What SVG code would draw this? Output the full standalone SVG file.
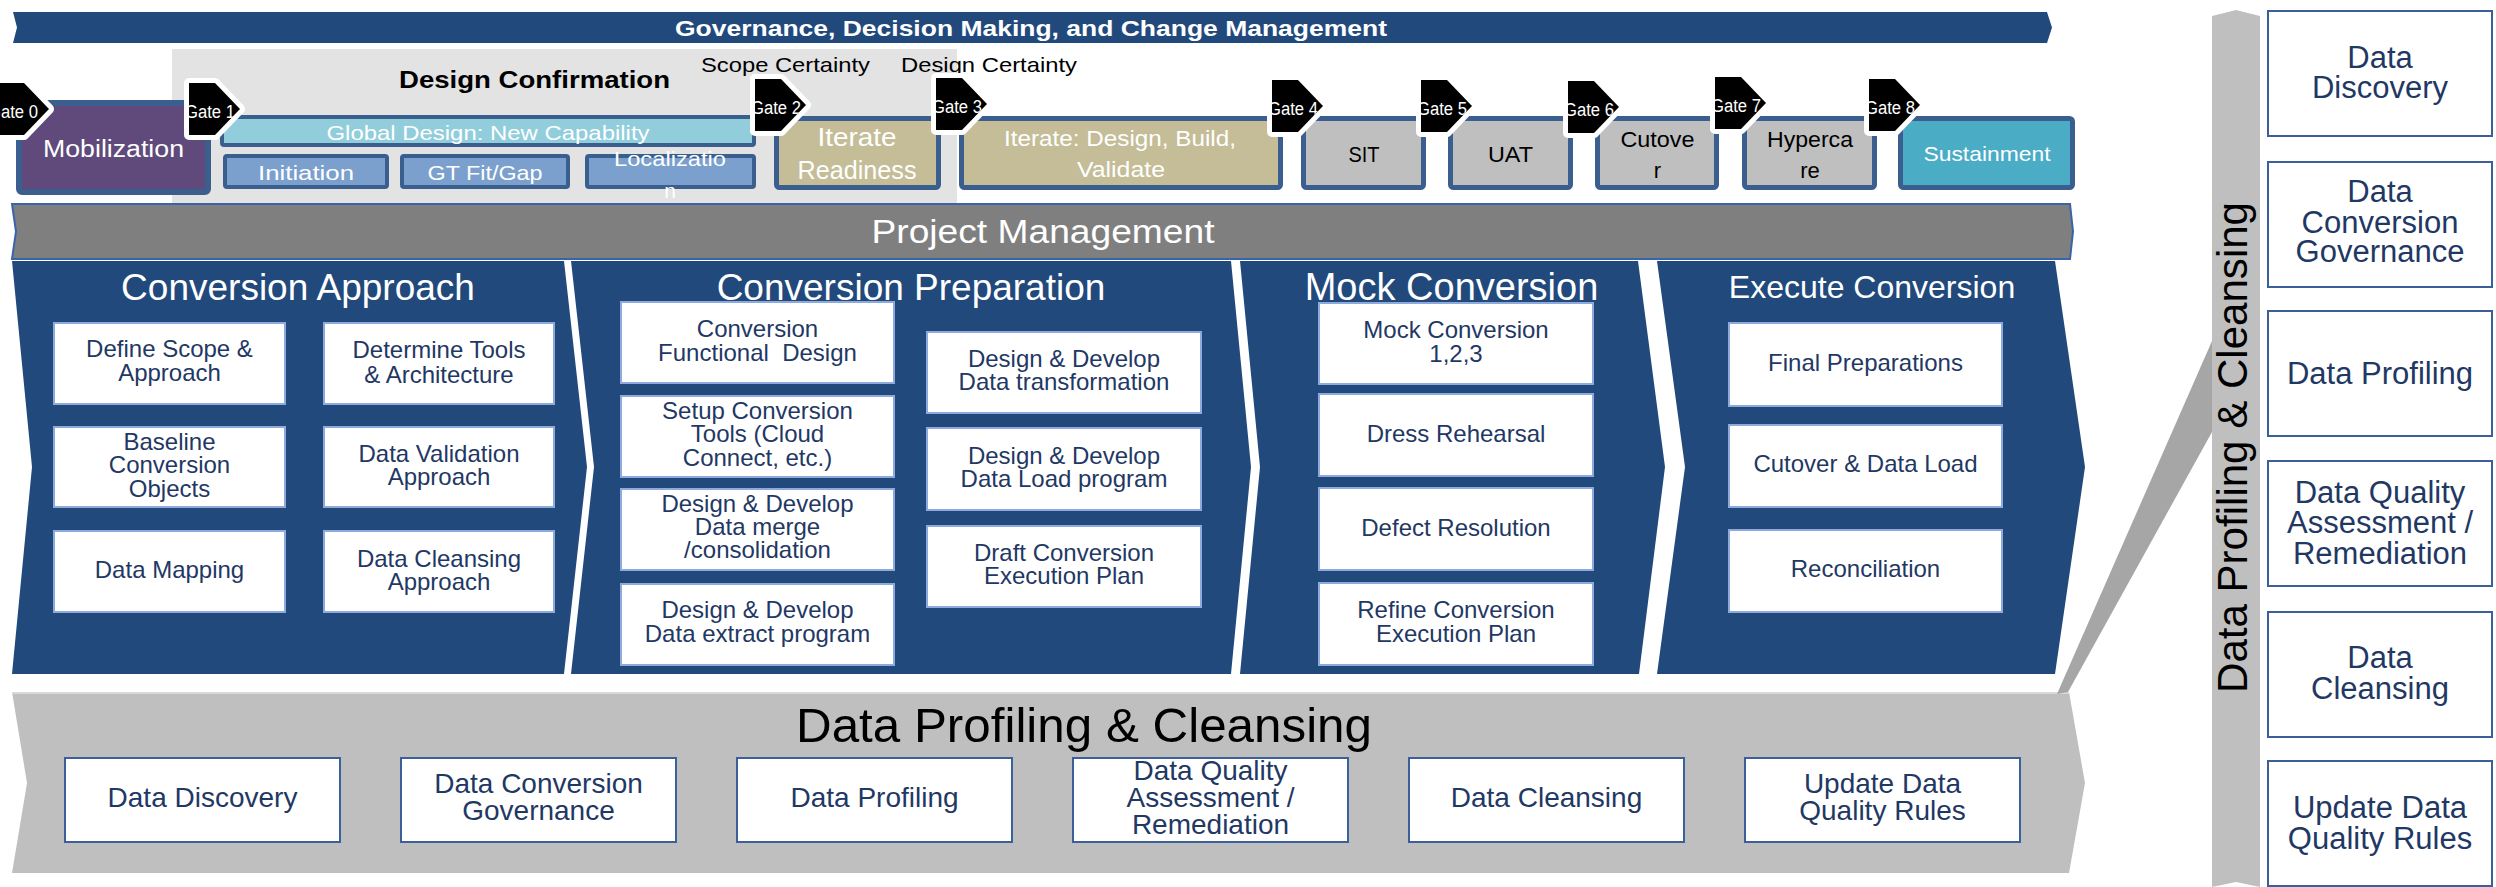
<svg xmlns="http://www.w3.org/2000/svg" width="2496" height="887" viewBox="0 0 2496 887">
  <defs>
    <style>
      text { font-family: "Liberation Sans", Arial, sans-serif; }
      .wt { fill: #ffffff; text-anchor: middle; }
      .bk { fill: #000000; text-anchor: middle; }
      .phase { stroke: #3A5F8F; stroke-width: 5; }
      .sub { stroke: #3A5F8F; stroke-width: 4; }
      .gate-shape { fill: #000000; stroke: #ffffff; stroke-width: 10; stroke-linejoin: round; paint-order: stroke; }
      .gate-label { fill: #ffffff; font-size: 18px; }
      .panel { fill: #21497C; }
      .ptitle { fill: #ffffff; font-size: 37px; text-anchor: middle; }
      .task rect { fill: #ffffff; stroke: #8EA9DB; stroke-width: 2; }
      .task text { fill: #1F3864; font-size: 24px; text-anchor: middle; }
      .dq rect { fill: #ffffff; stroke: #3A5F9A; stroke-width: 2; }
      .dq text { fill: #1F3864; font-size: 28px; text-anchor: middle; }
      .dqr text { font-size: 31px; }
    </style>
    <clipPath id="gate-clip"><polygon points="0,0 26,0 51,26 26,52 0,52"/></clipPath>
  </defs>

  <!-- Governance banner -->
  <g id="governance">
    <path d="M13,12 H2047 L2052,27.5 L2047,43 H13 L17,27.5 Z" fill="#21497C"/>
    <text x="1031" y="36" class="wt" font-weight="bold" font-size="22" textLength="712" lengthAdjust="spacingAndGlyphs">Governance, Decision Making, and Change Management</text>
  </g>

  <!-- Design confirmation backdrop -->
  <g id="design-confirmation">
    <rect x="172" y="49" width="785" height="154" fill="#E3E3E3"/>
    <text x="534.5" y="88" class="bk" font-weight="bold" font-size="24" textLength="271" lengthAdjust="spacingAndGlyphs">Design Confirmation</text>
  </g>
  <g id="certainty-labels" font-size="21" fill="#000">
    <text x="701" y="72" textLength="169" lengthAdjust="spacingAndGlyphs">Scope Certainty</text>
    <text x="901" y="72" textLength="176" lengthAdjust="spacingAndGlyphs">Design Certainty</text>
  </g>

  <!-- Phase boxes -->
  <g id="mobilization">
    <rect x="19" y="103" width="189" height="89" rx="3" fill="#604A7B" stroke="#3A5F8F" stroke-width="6"/>
    <text x="113.5" y="157" class="wt" font-size="23" textLength="141" lengthAdjust="spacingAndGlyphs">Mobilization</text>
  </g>
  <g id="global-design">
    <rect x="222" y="117" width="532" height="28" rx="2" fill="#92CDDC" class="sub"/>
    <text x="488" y="140" class="wt" font-size="21" textLength="323" lengthAdjust="spacingAndGlyphs">Global Design: New Capability</text>
  </g>
  <g id="initiation">
    <rect x="225" y="156" width="162" height="31" rx="2" fill="#7BA0CD" class="sub"/>
    <text x="306" y="180" class="wt" font-size="21" textLength="96" lengthAdjust="spacingAndGlyphs">Initiation</text>
  </g>
  <g id="fit-gap">
    <rect x="402" y="156" width="166" height="31" rx="2" fill="#7BA0CD" class="sub"/>
    <text x="485" y="180" class="wt" font-size="21" textLength="115" lengthAdjust="spacingAndGlyphs">GT Fit/Gap</text>
  </g>
  <g id="localization">
    <rect x="587" y="156" width="167" height="31" rx="2" fill="#7BA0CD" class="sub"/>
    <text x="670" y="166" class="wt" font-size="21" textLength="112" lengthAdjust="spacingAndGlyphs">Localizatio</text>
    <text x="670" y="198" class="wt" font-size="21">n</text>
  </g>
  <g id="iterate-readiness">
    <rect x="776.5" y="118.5" width="162" height="69" rx="3" fill="#C4BD97" class="phase"/>
    <text x="857" y="146" class="wt" font-size="25" textLength="79" lengthAdjust="spacingAndGlyphs">Iterate</text>
    <text x="857" y="179" class="wt" font-size="25" textLength="119" lengthAdjust="spacingAndGlyphs">Readiness</text>
  </g>
  <g id="iterate-build">
    <rect x="961.5" y="118.5" width="319" height="69" rx="3" fill="#C4BD97" class="phase"/>
    <text x="1120" y="146" class="wt" font-size="22" textLength="232" lengthAdjust="spacingAndGlyphs">Iterate: Design, Build,</text>
    <text x="1121" y="177" class="wt" font-size="22" textLength="88" lengthAdjust="spacingAndGlyphs">Validate</text>
  </g>
  <g id="sit">
    <rect x="1303.5" y="118.5" width="120" height="69" rx="3" fill="#BFBFBF" class="phase"/>
    <text x="1364" y="162" class="bk" font-size="22" textLength="31" lengthAdjust="spacingAndGlyphs">SIT</text>
  </g>
  <g id="uat">
    <rect x="1450.5" y="118.5" width="120" height="69" rx="3" fill="#BFBFBF" class="phase"/>
    <text x="1510.5" y="162" class="bk" font-size="22" textLength="45" lengthAdjust="spacingAndGlyphs">UAT</text>
  </g>
  <g id="cutover">
    <rect x="1597.5" y="118.5" width="119" height="69" rx="3" fill="#BFBFBF" class="phase"/>
    <text x="1657.5" y="147" class="bk" font-size="22" textLength="74" lengthAdjust="spacingAndGlyphs">Cutove</text>
    <text x="1657.5" y="178" class="bk" font-size="22">r</text>
  </g>
  <g id="hypercare">
    <rect x="1744.5" y="118.5" width="130" height="69" rx="3" fill="#BFBFBF" class="phase"/>
    <text x="1810" y="147" class="bk" font-size="22" textLength="86" lengthAdjust="spacingAndGlyphs">Hyperca</text>
    <text x="1810" y="178" class="bk" font-size="22">re</text>
  </g>
  <g id="sustainment">
    <rect x="1900.5" y="118.5" width="172" height="69" rx="3" fill="#4BACC6" class="phase"/>
    <text x="1987" y="161" class="wt" font-size="21" textLength="127" lengthAdjust="spacingAndGlyphs">Sustainment</text>
  </g>

  <!-- Gates -->
  <g id="gate-0" transform="translate(-2,83)">
    <polygon class="gate-shape" points="0,0 26,0 51,26 26,52 0,52"/>
    <text class="gate-label" x="-10" y="35" clip-path="url(#gate-clip)" textLength="50" lengthAdjust="spacingAndGlyphs">Gate 0</text>
  </g>
  <g id="gate-1" transform="translate(189,83)">
    <polygon class="gate-shape" points="0,0 26,0 51,26 26,52 0,52"/>
    <text class="gate-label" x="-4" y="35" clip-path="url(#gate-clip)" textLength="50" lengthAdjust="spacingAndGlyphs">Gate 1</text>
  </g>
  <g id="gate-2" transform="translate(755,79)">
    <polygon class="gate-shape" points="0,0 26,0 51,26 26,52 0,52"/>
    <text class="gate-label" x="-4" y="35" clip-path="url(#gate-clip)" textLength="50" lengthAdjust="spacingAndGlyphs">Gate 2</text>
  </g>
  <g id="gate-3" transform="translate(936,78)">
    <polygon class="gate-shape" points="0,0 26,0 51,26 26,52 0,52"/>
    <text class="gate-label" x="-4" y="35" clip-path="url(#gate-clip)" textLength="50" lengthAdjust="spacingAndGlyphs">Gate 3</text>
  </g>
  <g id="gate-4" transform="translate(1272,80)">
    <polygon class="gate-shape" points="0,0 26,0 51,26 26,52 0,52"/>
    <text class="gate-label" x="-4" y="35" clip-path="url(#gate-clip)" textLength="50" lengthAdjust="spacingAndGlyphs">Gate 4</text>
  </g>
  <g id="gate-5" transform="translate(1421,80)">
    <polygon class="gate-shape" points="0,0 26,0 51,26 26,52 0,52"/>
    <text class="gate-label" x="-4" y="35" clip-path="url(#gate-clip)" textLength="50" lengthAdjust="spacingAndGlyphs">Gate 5</text>
  </g>
  <g id="gate-6" transform="translate(1568,81)">
    <polygon class="gate-shape" points="0,0 26,0 51,26 26,52 0,52"/>
    <text class="gate-label" x="-4" y="35" clip-path="url(#gate-clip)" textLength="50" lengthAdjust="spacingAndGlyphs">Gate 6</text>
  </g>
  <g id="gate-7" transform="translate(1715,77)">
    <polygon class="gate-shape" points="0,0 26,0 51,26 26,52 0,52"/>
    <text class="gate-label" x="-4" y="35" clip-path="url(#gate-clip)" textLength="50" lengthAdjust="spacingAndGlyphs">Gate 7</text>
  </g>
  <g id="gate-8" transform="translate(1869,79)">
    <polygon class="gate-shape" points="0,0 26,0 51,26 26,52 0,52"/>
    <text class="gate-label" x="-4" y="35" clip-path="url(#gate-clip)" textLength="50" lengthAdjust="spacingAndGlyphs">Gate 8</text>
  </g>

  <!-- Project management bar -->
  <g id="project-management">
    <path d="M12,204 H2070 L2073,231.5 L2070,259 H12 L16,231.5 Z" fill="#7F7F7F" stroke="#3A64A8" stroke-width="2"/>
    <text x="1043" y="243" class="wt" font-size="33" textLength="343" lengthAdjust="spacingAndGlyphs">Project Management</text>
  </g>

  <!-- Conversion stages -->
  <g id="conversion-approach">
    <path class="panel" d="M12,261 H564 L587,467 L564,674 H12 L32,467 Z"/>
    <text x="298" y="300" class="ptitle">Conversion Approach</text>
    <g class="task">
      <rect x="54" y="323" width="231" height="81"/>
      <text><tspan x="169.5" y="357">Define Scope &amp;</tspan><tspan x="169.5" y="381">Approach</tspan></text>
      <rect x="324" y="323" width="230" height="81"/>
      <text><tspan x="439" y="358">Determine Tools</tspan><tspan x="439" y="383">&amp; Architecture</tspan></text>
      <rect x="54" y="427" width="231" height="80"/>
      <text><tspan x="169.5" y="450">Baseline</tspan><tspan x="169.5" y="473">Conversion</tspan><tspan x="169.5" y="497">Objects</tspan></text>
      <rect x="324" y="427" width="230" height="80"/>
      <text><tspan x="439" y="462">Data Validation</tspan><tspan x="439" y="485">Approach</tspan></text>
      <rect x="54" y="531" width="231" height="81"/>
      <text x="169.5" y="578">Data Mapping</text>
      <rect x="324" y="531" width="230" height="81"/>
      <text><tspan x="439" y="567">Data Cleansing</tspan><tspan x="439" y="590">Approach</tspan></text>
    </g>
  </g>

  <g id="conversion-preparation">
    <path class="panel" d="M571,261 H1231 L1251,467 L1231,674 H571 L594,467 Z"/>
    <text x="911" y="300" class="ptitle">Conversion Preparation</text>
    <g class="task">
      <rect x="621" y="302" width="273" height="81"/>
      <text xml:space="preserve"><tspan x="757.5" y="337">Conversion</tspan><tspan x="757.5" y="361">Functional  Design</tspan></text>
      <rect x="621" y="396" width="273" height="81"/>
      <text><tspan x="757.5" y="419">Setup Conversion</tspan><tspan x="757.5" y="442">Tools (Cloud</tspan><tspan x="757.5" y="466">Connect, etc.)</tspan></text>
      <rect x="621" y="489" width="273" height="81"/>
      <text><tspan x="757.5" y="512">Design &amp; Develop</tspan><tspan x="757.5" y="535">Data merge</tspan><tspan x="757.5" y="558">/consolidation</tspan></text>
      <rect x="621" y="584" width="273" height="81"/>
      <text><tspan x="757.5" y="618">Design &amp; Develop</tspan><tspan x="757.5" y="642">Data extract program</tspan></text>
      <rect x="927" y="332" width="274" height="81"/>
      <text><tspan x="1064" y="367">Design &amp; Develop</tspan><tspan x="1064" y="390">Data transformation</tspan></text>
      <rect x="927" y="428" width="274" height="82"/>
      <text><tspan x="1064" y="464">Design &amp; Develop</tspan><tspan x="1064" y="487">Data Load program</tspan></text>
      <rect x="927" y="526" width="274" height="81"/>
      <text><tspan x="1064" y="561">Draft Conversion</tspan><tspan x="1064" y="584">Execution Plan</tspan></text>
    </g>
  </g>

  <g id="mock-conversion">
    <path class="panel" d="M1240,261 H1638 L1665,467 L1639,674 H1240 L1260,467 Z"/>
    <text x="1451.5" y="300" class="ptitle" style="font-size:38px">Mock Conversion</text>
    <g class="task">
      <rect x="1319" y="303" width="274" height="81"/>
      <text><tspan x="1456" y="338">Mock Conversion</tspan><tspan x="1456" y="362">1,2,3</tspan></text>
      <rect x="1319" y="394" width="274" height="82"/>
      <text x="1456" y="442">Dress Rehearsal</text>
      <rect x="1319" y="488" width="274" height="82"/>
      <text x="1456" y="536">Defect Resolution</text>
      <rect x="1319" y="583" width="274" height="82"/>
      <text><tspan x="1456" y="618">Refine Conversion</tspan><tspan x="1456" y="642">Execution Plan</tspan></text>
    </g>
  </g>

  <g id="execute-conversion">
    <path class="panel" d="M1657,261 H2055 L2085,467 L2055,674 H1657 L1685,467 Z"/>
    <text x="1872" y="298" class="ptitle" style="font-size:32px">Execute Conversion</text>
    <g class="task">
      <rect x="1729" y="323" width="273" height="83"/>
      <text x="1865.5" y="371">Final Preparations</text>
      <rect x="1729" y="425" width="273" height="82"/>
      <text x="1865.5" y="472">Cutover &amp; Data Load</text>
      <rect x="1729" y="530" width="273" height="82"/>
      <text x="1865.5" y="577">Reconciliation</text>
    </g>
  </g>

  <!-- Data profiling band -->
  <g id="data-profiling-band">
    <path d="M12,692 H2069 L2085,783 L2069,873 H12 L27,783 Z" fill="#BFBFBF"/>
    <line x1="12" y1="693" x2="2069" y2="693" stroke="#D9D9D9" stroke-width="2"/>
    <text x="796" y="742" font-size="49" fill="#000" textLength="576" lengthAdjust="spacingAndGlyphs">Data Profiling &amp; Cleansing</text>
    <g class="dq">
      <rect x="65" y="758" width="275" height="84"/>
      <text x="202.5" y="807">Data Discovery</text>
      <rect x="401" y="758" width="275" height="84"/>
      <text><tspan x="538.5" y="793">Data Conversion</tspan><tspan x="538.5" y="820">Governance</tspan></text>
      <rect x="737" y="758" width="275" height="84"/>
      <text x="874.5" y="807">Data Profiling</text>
      <rect x="1073" y="758" width="275" height="84"/>
      <text><tspan x="1210.5" y="780">Data Quality</tspan><tspan x="1210.5" y="807">Assessment /</tspan><tspan x="1210.5" y="834">Remediation</tspan></text>
      <rect x="1409" y="758" width="275" height="84"/>
      <text x="1546.5" y="807">Data Cleansing</text>
      <rect x="1745" y="758" width="275" height="84"/>
      <text><tspan x="1882.5" y="793">Update Data</tspan><tspan x="1882.5" y="820">Quality Rules</tspan></text>
    </g>
  </g>

  <!-- Callout linking the band to the detail column -->
  <g id="connectors">
    <polygon points="2057,694 2212,341 2212,432 2068,692" fill="#A6A6A6"/>
  </g>

  <!-- Detail column -->
  <g id="data-profiling-column">
    <path d="M2212,16 L2236,10 L2260,16 V887 L2236,882 L2212,887 Z" fill="#BFBFBF"/>
    <text transform="translate(2247,447.5) rotate(-90)" x="0" y="0" font-size="42" fill="#000" text-anchor="middle" textLength="491" lengthAdjust="spacingAndGlyphs">Data Profiling &amp; Cleansing</text>
  </g>
  <g id="detail-boxes" class="dq dqr">
    <rect x="2268" y="11" width="224" height="125"/>
    <text><tspan x="2380" y="68">Data</tspan><tspan x="2380" y="98">Discovery</tspan></text>
    <rect x="2268" y="162" width="224" height="125"/>
    <text><tspan x="2380" y="202">Data</tspan><tspan x="2380" y="233">Conversion</tspan><tspan x="2380" y="262">Governance</tspan></text>
    <rect x="2268" y="311" width="224" height="125"/>
    <text x="2380" y="384">Data Profiling</text>
    <rect x="2268" y="461" width="224" height="125"/>
    <text><tspan x="2380" y="503">Data Quality</tspan><tspan x="2380" y="533">Assessment /</tspan><tspan x="2380" y="564">Remediation</tspan></text>
    <rect x="2268" y="612" width="224" height="125"/>
    <text><tspan x="2380" y="668">Data</tspan><tspan x="2380" y="699">Cleansing</tspan></text>
    <rect x="2268" y="761" width="224" height="125"/>
    <text><tspan x="2380" y="818">Update Data</tspan><tspan x="2380" y="849">Quality Rules</tspan></text>
  </g>
</svg>
